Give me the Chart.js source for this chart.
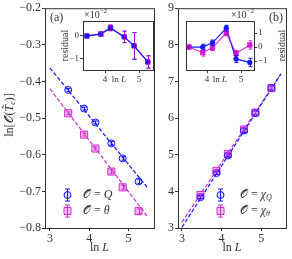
<!DOCTYPE html>
<html>
<head>
<meta charset="utf-8">
<script src="https://cdn.jsdelivr.net/npm/chart.js@4.4.0/dist/chart.umd.min.js"></script>
<style>
body { margin: 0; background: #fff; }
#wrap { position: relative; width: 292px; height: 259px; overflow: hidden; }
canvas { position: absolute; }
</style>
</head>
<body>
<div id="wrap">
  <canvas id="mainA" style="left:0px;top:0px" width="160" height="259"></canvas>
  <canvas id="mainB" style="left:156px;top:0px" width="136" height="259"></canvas>
  <canvas id="insetA" style="left:50px;top:0px" width="110" height="90"></canvas>
  <canvas id="insetB" style="left:160px;top:0px" width="132" height="90"></canvas>
</div>
<script>
// ln L for L = 32, 48, 64, 96, 128, 192
const lnL = [3.466, 3.871, 4.159, 4.564, 4.852, 5.257];

// panel (a)
const valQ = [-0.423, -0.474, -0.512, -0.569, -0.610, -0.673];
const errQ = [0.004, 0.004, 0.004, 0.005, 0.005, 0.006];
const valTheta = [-0.487, -0.545, -0.583, -0.646, -0.689, -0.754];
const errTheta = [0.004, 0.004, 0.004, 0.005, 0.005, 0.006];
const fitX = [3, 5.5];
const fitQ = [-0.363, -0.692];
const fitTheta = [-0.420, -0.771];

// panel (b)
const valChiQ = [3.84, 4.50, 4.98, 5.66, 6.14, 6.82];
const errChiQ = [0.04, 0.04, 0.04, 0.05, 0.05, 0.06];
const valChiTheta = [3.90, 4.56, 5.02, 5.69, 6.15, 6.82];
const errChiTheta = [0.04, 0.04, 0.04, 0.05, 0.05, 0.06];
const fitChiQ = [3.02, 7.21];
const fitChiTheta = [3.16, 7.21];

// residuals, in units of 1e-2
const resQ = [0, 0.08, 0.35, -0.04, -0.43, -1.13];
const resQErr = [0, 0.08, 0.12, 0.25, 0.58, 0.27];
const resTheta = [0, 0.09, 0.35, -0.04, -0.43, -1.13];
const resThetaErr = [0, 0.08, 0.12, 0.25, 0.58, 0.27];
const resChiQ = [0, 0, 0.3, 1.35, -0.85, -1.1];
const resChiQErr = [0, 0.2, 0.2, 0.2, 0.25, 0.3];
const resChiTheta = [0, -0.4, -0.05, 1.0, -0.45, 0.15];
const resChiThetaErr = [0, 0.25, 0.2, 0.2, 0.2, 0.3];

// ticks
const ticksA = [-0.8, -0.7, -0.6, -0.5, -0.4, -0.3, -0.2];
const ticksB = [3, 4, 5, 6, 7, 8, 9];
const ticksX = [3, 4, 5];
const ticksInsetX = [4, 5];
const ticksInsetA = [-1, 0];
const ticksInsetB = [-1, 0, 1];

const SERIF = '"Liberation Serif", "DejaVu Serif", serif';
const BLUE = '#1414ff';
const PINK = '#d22ad2';
const AXIS = '#333333';

function font(size, style) { return (style || '') + ' ' + size + 'px ' + SERIF; }
function minus(v, d) { return (v < 0 ? '\u2212' : '') + Math.abs(v).toFixed(d); }
function points(xs, ys) { return xs.map((x, i) => ({ x: x, y: ys[i] })); }

// draw text made of pieces: [text, size, style, dy]
function rich(ctx, parts, x, y, align) {
  let w = 0;
  parts.forEach(p => { ctx.font = font(p[1], p[2]); w += ctx.measureText(p[0]).width; });
  let cx = align === 'center' ? x - w / 2 : align === 'right' ? x - w : x;
  ctx.textAlign = 'left';
  ctx.textBaseline = 'middle';
  ctx.fillStyle = AXIS;
  parts.forEach(p => {
    ctx.font = font(p[1], p[2]);
    ctx.fillText(p[0], cx, y + (p[3] || 0));
    cx += ctx.measureText(p[0]).width;
  });
}

function axis(pos, min, max, ticks, fmt, fixed, size) {
  return {
    type: 'linear', position: pos, min: min, max: max,
    afterBuildTicks: s => { s.ticks = ticks.map(v => ({ value: v })); },
    afterFit: s => { if (pos === 'bottom') s.height = fixed; else s.width = fixed; },
    grid: { drawOnChartArea: false, drawTicks: true, tickLength: 3, color: AXIS },
    border: { display: false },
    ticks: { callback: fmt, color: AXIS, font: { family: SERIF, size: size }, padding: 1, autoSkip: false, maxRotation: 0 }
  };
}

// white background in insets and box around every plot
const framePlugin = {
  id: 'frame',
  beforeDatasetsDraw(chart, args, opts) {
    const a = chart.chartArea, ctx = chart.ctx;
    if (opts.fill) {
      ctx.save(); ctx.fillStyle = '#fff';
      ctx.fillRect(a.left, a.top, a.right - a.left, a.bottom - a.top);
      ctx.restore();
    }
  },
  afterDraw(chart) {
    const a = chart.chartArea, ctx = chart.ctx;
    ctx.save(); ctx.strokeStyle = AXIS; ctx.lineWidth = 1;
    ctx.strokeRect(a.left + 0.5, a.top + 0.5, a.right - a.left, a.bottom - a.top);
    ctx.restore();
  }
};

const errorPlugin = {
  id: 'errbars',
  afterDatasetsDraw(chart) {
    const ctx = chart.ctx, xs = chart.scales.x, ys = chart.scales.y;
    chart.data.datasets.forEach(ds => {
      if (!ds.errors) return;
      ctx.save(); ctx.strokeStyle = ds.borderColor; ctx.lineWidth = 1;
      ds.data.forEach((p, j) => {
        const e = ds.errors[j];
        if (!e) return;
        const px = Math.round(xs.getPixelForValue(p.x)) + 0.5;
        const y1 = ys.getPixelForValue(p.y - e), y2 = ys.getPixelForValue(p.y + e);
        const c = ds.capSize;
        ctx.beginPath();
        ctx.moveTo(px, y1); ctx.lineTo(px, y2);
        ctx.moveTo(px - c, y1); ctx.lineTo(px + c, y1);
        ctx.moveTo(px - c, y2); ctx.lineTo(px + c, y2);
        ctx.stroke();
      });
      ctx.restore();
    });
  }
};

function legendMark(ctx, x, y, color, fill, square) {
  ctx.save();
  ctx.strokeStyle = color; ctx.fillStyle = fill; ctx.lineWidth = 1;
  ctx.beginPath();
  ctx.moveTo(x + 0.5, y - 6); ctx.lineTo(x + 0.5, y + 6);
  ctx.moveTo(x - 2, y - 6); ctx.lineTo(x + 3, y - 6);
  ctx.moveTo(x - 2, y + 6); ctx.lineTo(x + 3, y + 6);
  ctx.stroke();
  ctx.beginPath();
  if (square) ctx.rect(x - 3, y - 3.5, 7, 7);
  else ctx.arc(x + 0.5, y, 3.5, 0, Math.PI * 2);
  ctx.fill(); ctx.stroke();
  ctx.restore();
}

function fitSet(xs, ys, color) {
  return { data: points(xs, ys), showLine: true, borderColor: color, borderWidth: 1.2,
           borderDash: [4, 2], pointRadius: 0, fill: false };
}
function dotSet(ys, errs, color, fill, style, r) {
  return { data: points(lnL, ys), showLine: false, borderColor: color, backgroundColor: fill,
           borderWidth: 1, pointStyle: style, pointRadius: r, errors: errs, capSize: 2 };
}
function resSet(ys, errs, color, style, r) {
  return { data: points(lnL, ys), showLine: true, borderColor: color, backgroundColor: color,
           borderWidth: 1.2, pointStyle: style, pointRadius: r, errors: errs, capSize: 2, fill: false };
}

function base(datasets, scales, padding, deco, fill) {
  return {
    type: 'scatter',
    data: { datasets: datasets },
    options: {
      responsive: false, animation: false, events: [],
      layout: { padding: padding },
      scales: scales,
      plugins: { legend: { display: false }, tooltip: { enabled: false }, frame: { fill: fill } }
    },
    plugins: [framePlugin, errorPlugin, { id: 'deco', afterDraw: deco }]
  };
}

// panel (a)
new Chart(document.getElementById('mainA'), base([
  fitSet(fitX, fitQ, BLUE),
  fitSet(fitX, fitTheta, PINK),
  dotSet(valQ, errQ, BLUE, 'rgba(20,20,255,0.15)', 'circle', 3.5),
  dotSet(valTheta, errTheta, PINK, 'rgba(210,42,210,0.3)', 'rect', 5)
], {
  x: axis('bottom', 2.875, 5.65, ticksX, v => v, 31, 12),
  y: axis('left', -0.8, -0.2, ticksA, v => minus(v, 1), 45, 12)
}, { left: 0, top: 7, right: 4, bottom: 0 }, chart => {
  const ctx = chart.ctx, a = chart.chartArea;
  rich(ctx, [['(a)', 12]], a.left + 5, a.top + 10, 'left');
  rich(ctx, [['ln ', 12], ['L', 12, 'italic']], (a.left + a.right) / 2, 248, 'center');
  ctx.save(); ctx.translate(10, 115); ctx.rotate(-Math.PI / 2);
  rich(ctx, [['ln[', 12], ['\u{1D4AA}', 12], ['(', 12], ['T\u0303', 12, 'italic'], ['c', 8, 'italic', 3], [')]', 12]], 0, 0, 'center');
  ctx.restore();
  legendMark(ctx, a.left + 22, a.bottom - 33, BLUE, 'rgba(20,20,255,0.15)', false);
  legendMark(ctx, a.left + 22, a.bottom - 17, PINK, 'rgba(210,42,210,0.3)', true);
  rich(ctx, [['\u{1D4AA}', 12], [' = ', 12], ['Q', 12, 'italic']], a.left + 38, a.bottom - 33, 'left');
  rich(ctx, [['\u{1D4AA}', 12], [' = ', 12], ['\u03B8', 12, 'italic']], a.left + 38, a.bottom - 17, 'left');
}, false));

// panel (b)
new Chart(document.getElementById('mainB'), base([
  fitSet(fitX, fitChiQ, BLUE),
  fitSet(fitX, fitChiTheta, PINK),
  dotSet(valChiQ, errChiQ, BLUE, 'rgba(20,20,255,0.15)', 'circle', 3.5),
  dotSet(valChiTheta, errChiTheta, PINK, 'rgba(210,42,210,0.3)', 'rect', 5)
], {
  x: axis('bottom', 2.9, 5.625, ticksX, v => v, 31, 12),
  y: axis('left', 3, 9, ticksB, v => v, 22, 12)
}, { left: 0, top: 7, right: 5, bottom: 0 }, chart => {
  const ctx = chart.ctx, a = chart.chartArea;
  rich(ctx, [['(b)', 12]], a.right - 3, a.top + 10, 'right');
  rich(ctx, [['ln ', 12], ['L', 12, 'italic']], (a.left + a.right) / 2, 248, 'center');
  legendMark(ctx, a.left + 42, a.bottom - 33, BLUE, 'rgba(20,20,255,0.15)', false);
  legendMark(ctx, a.left + 42, a.bottom - 17, PINK, 'rgba(210,42,210,0.3)', true);
  rich(ctx, [['\u{1D4AA}', 12], [' = ', 12], ['\u03C7', 12, 'italic'], ['Q', 8, 'italic', 3]], a.left + 62, a.bottom - 33, 'left');
  rich(ctx, [['\u{1D4AA}', 12], [' = ', 12], ['\u03C7', 12, 'italic'], ['\u03B8', 8, 'italic', 3]], a.left + 62, a.bottom - 17, 'left');
}, false));

// inset (a)
new Chart(document.getElementById('insetA'), base([
  resSet(resQ, resQErr, BLUE, 'circle', 2),
  resSet(resTheta, resThetaErr, 'rgba(204,0,204,0.75)', 'rect', 3)
], {
  x: axis('bottom', 3.35, 5.41, ticksInsetX, v => v, 20, 9),
  y: axis('left', -1.48, 0.65, ticksInsetA, v => minus(v, 0), 33, 9)
}, { left: 0, top: 21, right: 7, bottom: 0 }, chart => {
  const ctx = chart.ctx, a = chart.chartArea;
  rich(ctx, [['\u00D710', 10], ['\u22122', 7, '', -4]], a.left + 1, a.top - 6, 'left');
  rich(ctx, [['ln ', 9], ['L', 9, 'italic']], (a.left + a.right) / 2 + 1, a.bottom + 10, 'center');
  ctx.save(); ctx.translate(a.left - 18, (a.top + a.bottom) / 2); ctx.rotate(-Math.PI / 2);
  rich(ctx, [['residual', 10]], 0, 0, 'center');
  ctx.restore();
}, true));

// inset (b)
new Chart(document.getElementById('insetB'), base([
  resSet(resChiTheta, resChiThetaErr, 'rgba(204,0,204,0.75)', 'rect', 3),
  resSet(resChiQ, resChiQErr, BLUE, 'circle', 2)
], {
  x: axis('bottom', 3.38, 5.38, ticksInsetX, v => v, 20, 9),
  y: axis('right', -1.64, 1.86, ticksInsetB, v => minus(v, 0), 38, 9)
}, { left: 26, top: 21, right: 0, bottom: 0 }, chart => {
  const ctx = chart.ctx, a = chart.chartArea;
  rich(ctx, [['\u00D710', 10], ['\u22122', 7, '', -4]], a.right, a.top - 6, 'right');
  rich(ctx, [['ln ', 9], ['L', 9, 'italic']], (a.left + a.right) / 2, a.bottom + 10, 'center');
  ctx.save(); ctx.translate(a.right + 28, (a.top + a.bottom) / 2); ctx.rotate(-Math.PI / 2);
  rich(ctx, [['residual', 10]], 0, 0, 'center');
  ctx.restore();
}, true));
</script>
</body>
</html>
